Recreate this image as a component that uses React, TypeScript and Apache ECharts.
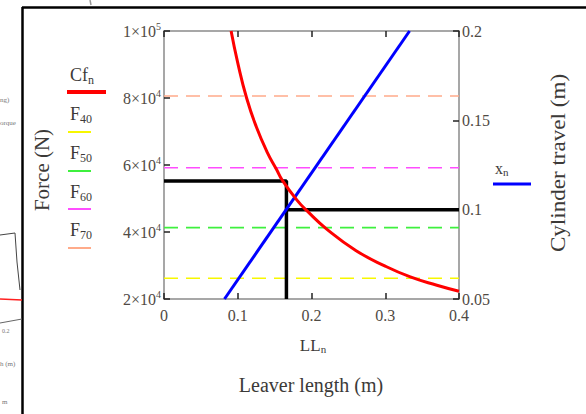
import React, { useEffect, useRef } from "react";
import * as echarts from "echarts";

// ---- data ----
const xTickValues = [0, 0.1, 0.2, 0.3, 0.4];
const forceTickValues = [20000, 40000, 60000, 80000, 100000];
const travelTickValues = [0.05, 0.1, 0.15, 0.2];

// Cf_n : required cylinder force vs lever length
const leverLength = [0.091, 0.1, 0.112, 0.125, 0.14, 0.153, 0.16, 0.18, 0.194, 0.221, 0.26, 0.3, 0.334, 0.37, 0.4];
const cylinderForce = [100000, 90500, 80000, 71500, 63800, 58500, 55600, 49600, 46300, 40800, 34500, 29800, 26600, 24100, 22300];

// x_n : cylinder travel vs lever length
const travelLeverLength = [0.082, 0.333];
const cylinderTravel = [0.05, 0.2];

// F40..F70 : available forces (horizontal levels)
const forceLevelNames = ["40", "50", "60", "70"];
const forceLevels = [26200, 41300, 59200, 80600];

// selected design point
const designLeverLength = 0.166;
const designForce = 55200;
const designTravel = 0.1;

const SERIF = "'Liberation Serif', 'DejaVu Serif', serif";
const levelColors = ["#f7f700", "#3ef03e", "#ff4dff", "#ffab8a"];
const axisGray = "#8a8a8a";
const labelColor = "#4f4a44";
const titleColor = "#3c3a38";

export default function App() {
  const ref = useRef<HTMLDivElement>(null);

  useEffect(() => {
    if (!ref.current) return;
    const chart = echarts.init(ref.current, undefined, { renderer: "svg" });

    const xMin = xTickValues[0];
    const xMax = xTickValues[xTickValues.length - 1];

    const levelSeries = forceLevels.map((v, i) => ({
      name: "F" + forceLevelNames[i],
      type: "line",
      xAxisIndex: 0,
      yAxisIndex: 0,
      data: [
        [xMin, v],
        [xMax, v],
      ],
      showSymbol: false,
      silent: true,
      lineStyle: { color: levelColors[i], width: 1.6, type: [14, 8] },
      z: 2,
    }));

    const subRich = (size: number, sub: number, drop: number) => ({
      m: { fontFamily: SERIF, fontSize: size, fill: titleColor, color: titleColor },
      s: { fontFamily: SERIF, fontSize: sub, fill: titleColor, color: titleColor, padding: [drop, 0, 0, 0] },
    });

    const legendY = [112, 151, 190, 228];
    const legendLineY = [132, 171, 209, 248];

    const graphic: any[] = [
      // figure frame
      { type: "line", shape: { x1: 22, y1: 7.5, x2: 586, y2: 7.5 }, style: { stroke: "#000", lineWidth: 2.5 } },
      { type: "line", shape: { x1: 22.5, y1: 7, x2: 22.5, y2: 414 }, style: { stroke: "#000", lineWidth: 2.5 } },
      // fragments of neighbouring figure
      { type: "line", shape: { x1: 90, y1: 0, x2: 91, y2: 5 }, style: { stroke: "#999", lineWidth: 1.5 } },
      { type: "text", x: 0, y: 100, style: { text: "ng)", fontFamily: SERIF, fontSize: 7, fill: "#777", verticalAlign: "middle" } },
      { type: "text", x: 0, y: 123, style: { text: "orque", fontFamily: SERIF, fontSize: 7, fill: "#777", verticalAlign: "middle" } },
      { type: "polyline", shape: { points: [[0, 235], [15, 233], [17, 262], [20, 290]] }, style: { stroke: "#444", lineWidth: 1, fill: "none" } },
      { type: "line", shape: { x1: 0, y1: 299, x2: 22, y2: 300 }, style: { stroke: "#ff2020", lineWidth: 1.5 } },
      { type: "line", shape: { x1: 0, y1: 323, x2: 22, y2: 319 }, style: { stroke: "#666", lineWidth: 1 } },
      { type: "text", x: 2, y: 331, style: { text: "0.2", fontFamily: SERIF, fontSize: 6, fill: "#777", verticalAlign: "middle" } },
      { type: "text", x: 0, y: 364, style: { text: "h (m)", fontFamily: SERIF, fontSize: 7, fill: "#777", verticalAlign: "middle" } },
      { type: "text", x: 2, y: 402, style: { text: "m", fontFamily: SERIF, fontSize: 7, fill: "#777", verticalAlign: "middle" } },

      // left axis title
      {
        type: "text", x: 42, y: 170, rotation: Math.PI / 2,
        style: { text: "Force (N)", fontFamily: SERIF, fontSize: 21, fill: titleColor, align: "center", verticalAlign: "middle" },
      },
      // right axis title
      {
        type: "text", x: 558, y: 163, rotation: Math.PI / 2, scaleX: 1.1,
        style: { text: "Cylinder travel (m)", fontFamily: SERIF, fontSize: 21, fill: titleColor, align: "center", verticalAlign: "middle" },
      },
      // x axis name and title
      {
        type: "text", x: 313, y: 345,
        style: { text: "{m|LL}{s|n}", rich: subRich(17, 11, 8), align: "center", verticalAlign: "middle" },
      },
      {
        type: "text", x: 311, y: 385,
        style: { text: "Leaver length (m)", fontFamily: SERIF, fontSize: 20, fill: titleColor, align: "center", verticalAlign: "middle" },
      },
      // legend: Cf_n
      {
        type: "text", x: 70, y: 75,
        style: { text: "{m|Cf}{s|n}", rich: subRich(18, 12, 9), align: "left", verticalAlign: "middle" },
      },
      { type: "line", shape: { x1: 67, y1: 92, x2: 106, y2: 92 }, style: { stroke: "#ff0000", lineWidth: 4 } },
      // legend: x_n
      {
        type: "text", x: 495, y: 168,
        style: { text: "{m|x}{s|n}", rich: subRich(16, 11, 7), align: "left", verticalAlign: "middle" },
      },
      { type: "line", shape: { x1: 493, y1: 184, x2: 531, y2: 184 }, style: { stroke: "#0000ff", lineWidth: 3 } },
    ];

    forceLevelNames.forEach((n, i) => {
      graphic.push({
        type: "text", x: 70, y: legendY[i] + 2,
        style: { text: `{m|F}{s|${n}}`, rich: subRich(18, 12, 9), align: "left", verticalAlign: "middle" },
      });
      graphic.push({
        type: "line",
        shape: { x1: 68, y1: legendLineY[i], x2: 91, y2: legendLineY[i] },
        style: { stroke: levelColors[i], lineWidth: 2 },
      });
    });

    const xAxisBase = {
      type: "value",
      min: xMin,
      max: xMax,
      interval: 0.1,
      axisLine: { show: true, onZero: false, lineStyle: { color: axisGray, width: 1.5 } },
      axisTick: { show: true, inside: true, length: 6, lineStyle: { color: "#222", width: 1.5 } },
      splitLine: { show: false },
    };

    chart.setOption({
      animation: false,
      backgroundColor: "#ffffff",
      grid: { left: 164, top: 31, right: 127, bottom: 115, containLabel: false },
      graphic,
      xAxis: [
        {
          ...xAxisBase,
          position: "bottom",
          axisLabel: {
            margin: 8,
            fontFamily: SERIF,
            fontSize: 16,
            color: labelColor,
            formatter: (v: number) => String(+v.toFixed(2)),
          },
        },
        { ...xAxisBase, position: "top", axisLabel: { show: false } },
      ],
      yAxis: [
        {
          type: "value",
          position: "left",
          min: forceTickValues[0],
          max: forceTickValues[forceTickValues.length - 1],
          interval: 20000,
          axisLine: { show: true, onZero: false, lineStyle: { color: axisGray, width: 1.5 } },
          axisTick: { show: true, inside: true, length: 6, lineStyle: { color: "#222", width: 1.5 } },
          splitLine: { show: false },
          axisLabel: {
            margin: 3,
            formatter: (v: number) => {
              const exp = Math.floor(Math.log10(v) + 1e-9);
              const mant = Math.round(v / Math.pow(10, exp));
              return `{b|${mant}×10}{s|${exp}}`;
            },
            rich: {
              b: { fontFamily: SERIF, fontSize: 16, color: labelColor },
              s: { fontFamily: SERIF, fontSize: 10, color: labelColor, padding: [0, 0, 10, 0] },
            },
          },
        },
        {
          type: "value",
          position: "right",
          min: travelTickValues[0],
          max: travelTickValues[travelTickValues.length - 1],
          interval: 0.05,
          axisLine: { show: true, onZero: false, lineStyle: { color: axisGray, width: 1.5 } },
          axisTick: { show: true, inside: true, length: 6, lineStyle: { color: "#222", width: 1.5 } },
          splitLine: { show: false },
          axisLabel: {
            margin: 3,
            fontFamily: SERIF,
            fontSize: 16,
            color: labelColor,
            formatter: (v: number) => String(+v.toFixed(2)),
          },
        },
      ],
      series: [
        ...levelSeries,
        {
          name: "design force",
          type: "line",
          xAxisIndex: 0,
          yAxisIndex: 0,
          data: [
            [xMin, designForce],
            [designLeverLength, designForce],
            [designLeverLength, forceTickValues[0]],
          ],
          showSymbol: false,
          lineStyle: { color: "#000", width: 3.5 },
          z: 3,
        },
        {
          name: "design travel",
          type: "line",
          xAxisIndex: 0,
          yAxisIndex: 1,
          data: [
            [designLeverLength, designTravel],
            [xMax, designTravel],
          ],
          showSymbol: false,
          lineStyle: { color: "#000", width: 3.5 },
          z: 3,
        },
        {
          name: "x_n",
          type: "line",
          xAxisIndex: 0,
          yAxisIndex: 1,
          data: travelLeverLength.map((x, i) => [x, cylinderTravel[i]]),
          showSymbol: false,
          lineStyle: { color: "#0000ff", width: 3 },
          z: 4,
        },
        {
          name: "Cf_n",
          type: "line",
          xAxisIndex: 0,
          yAxisIndex: 0,
          smooth: 0.5,
          data: leverLength.map((x, i) => [x, cylinderForce[i]]),
          showSymbol: false,
          lineStyle: { color: "#ff0000", width: 3 },
          z: 5,
        },
      ],
    });

    return () => chart.dispose();
  }, []);

  return (
    <div
      ref={ref}
      style={{ position: "fixed", left: 0, top: 0, width: 586, height: 414, background: "#fff" }}
    />
  );
}
